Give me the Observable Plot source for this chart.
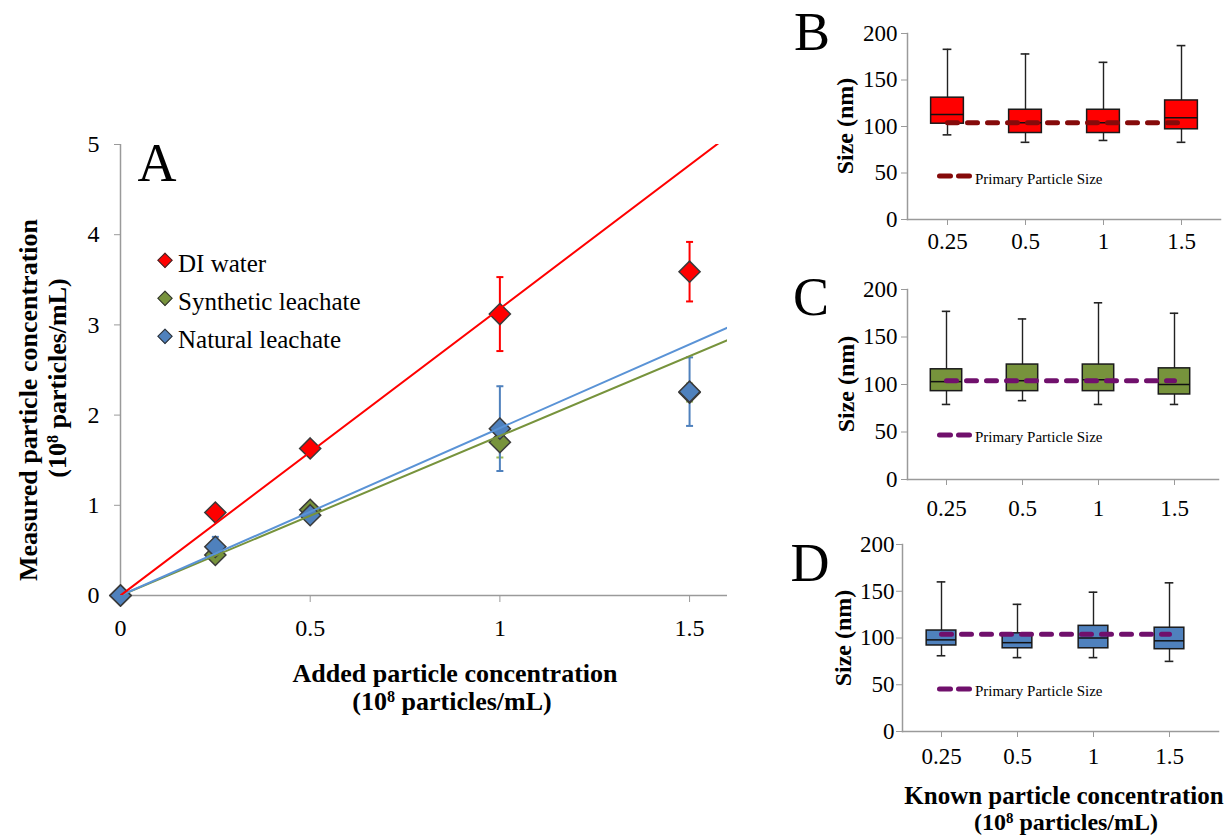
<!DOCTYPE html>
<html><head><meta charset="utf-8">
<script src="https://cdn.jsdelivr.net/npm/d3@7"></script>
<script src="https://cdn.jsdelivr.net/npm/@observablehq/plot@0.6"></script>
<style>
body{margin:0;background:#fff;}
#root{position:relative;width:1224px;height:836px;overflow:hidden;background:#fff;font-family:"Liberation Serif","Times New Roman",serif;color:#000;}
#root svg{position:absolute;overflow:visible;}
.t{position:absolute;white-space:nowrap;line-height:1;}
.t sup{font-size:0.62em;line-height:0;vertical-align:0;position:relative;top:-0.5em;}
.dia{position:absolute;width:10.5px;height:10.5px;box-sizing:border-box;border:1px solid #333;transform:translate(-50%,-50%) rotate(45deg);}
</style></head><body><div id="root"></div>
<script>
// ---------- Panel A data ----------
const addedConc = [0, 0.25, 0.5, 1, 1.5];
const diWater = [0, 0.92, 1.63, 3.12, 3.59];
const diWaterErr = [0, 0.03, 0.04, 0.41, 0.33];
const synthetic = [0, 0.45, 0.95, 1.70, 2.25];
const syntheticErr = [0, 0.03, 0.07, 0.17, 0.10];
const natural = [0, 0.54, 0.89, 1.85, 2.26];
const naturalErr = [0, 0.11, 0.05, 0.47, 0.38];
const trendX = [0, 1.6];
const trendDI = [0, 5.09];
const trendSynthetic = [0, 2.83];
const trendNatural = [0, 2.97];
const seriesNames = ["DI water", "Synthetic leachate", "Natural leachate"];

// ---------- Panels B-D data ----------
const knownConc = ["0.25", "0.5", "1", "1.5"];
const primarySize = 104;
const bMin = [91, 83, 85, 83], bQ1 = [103, 93, 93, 97], bMed = [113, 104, 104, 109.5], bQ3 = [131, 118, 118, 128], bMax = [183, 178, 169, 187];
const cMin = [79, 83, 79, 79], cQ1 = [93, 93, 93, 89.5], cMed = [103, 104, 105, 100], cQ3 = [116, 121, 121, 117], cMax = [177, 169, 186, 175];
const dMin = [81, 79, 79, 75], dQ1 = [92, 89, 89, 88], dMed = [98, 95, 100, 97], dQ3 = [108, 105, 113, 111], dMax = [160, 136, 149, 159];

const FONT = '"Liberation Serif","Times New Roman",serif';
const AXIS = "#9a9a9a";
const root = document.getElementById("root");

// ---------- Panel A ----------
const seriesA = [
  {name: seriesNames[0], v: diWater, e: diWaterErr, t: trendDI, fill: "#FF0000", err: "#FF0000", line: "#FF0000"},
  {name: seriesNames[1], v: synthetic, e: syntheticErr, t: trendSynthetic, fill: "#77933C", err: "#9BBB59", line: "#77933C"},
  {name: seriesNames[2], v: natural, e: naturalErr, t: trendNatural, fill: "#4F81BD", err: "#4F81BD", line: "#5A93D6"}
];
const rowsOf = s => addedConc.map((x, i) => ({x, y: s.v[i], lo: s.v[i] - s.e[i], hi: s.v[i] + s.e[i], e: s.e[i]}));
const trendOf = s => trendX.map((x, i) => ({x, y: s.t[i]}));
const capSymbol = {draw(ctx, size) { const w = Math.sqrt(size / Math.PI); ctx.moveTo(-w, 0); ctx.lineTo(w, 0); }};

const errMarks = seriesA.flatMap(s => {
  const r = rowsOf(s).filter(d => d.e > 0.06);
  return [
    Plot.ruleX(r, {x: "x", y1: "lo", y2: "hi", stroke: s.err, strokeWidth: 2}),
    Plot.dot(r, {x: "x", y: "lo", symbol: capSymbol, r: 3.5, fill: "none", stroke: s.err, strokeWidth: 2}),
    Plot.dot(r, {x: "x", y: "hi", symbol: capSymbol, r: 3.5, fill: "none", stroke: s.err, strokeWidth: 2})
  ];
});
const dotMarks = seriesA.map(s => Plot.dot(rowsOf(s), {x: "x", y: "y", symbol: "diamond2", r: 9.5, fill: s.fill, stroke: "#3a3a3a", strokeWidth: 1.5}));
const lineMarks = [seriesA[1], seriesA[2], seriesA[0]].map(s => Plot.line(trendOf(s), {x: "x", y: "y", stroke: s.line, strokeWidth: 2, clip: true}));

const plotA = Plot.plot({
  width: 745, height: 640,
  marginLeft: 120, marginRight: 18, marginTop: 144, marginBottom: 45,
  x: {domain: [0, 1.6]},
  y: {domain: [0, 5]},
  style: {fontFamily: FONT, fontSize: "24px", background: "transparent", color: "#000"},
  marks: [
    Plot.ruleY([0], {stroke: AXIS, strokeWidth: 1.5}),
    Plot.ruleX([0], {stroke: AXIS, strokeWidth: 1.5}),
    Plot.axisY({ticks: [0, 1, 2, 3, 4, 5], tickFormat: d => String(d), tickSize: 6, tickPadding: 15, stroke: AXIS, fill: "#000", fontSize: 24, label: null}),
    Plot.axisX({ticks: [0, 0.5, 1, 1.5], tickFormat: d => String(d), tickSize: 7, tickPadding: 16, stroke: AXIS, fill: "#000", fontSize: 24, label: null}),
    ...errMarks,
    ...dotMarks,
    ...lineMarks
  ]
});
plotA.style.left = "0px"; plotA.style.top = "0px";
root.appendChild(plotA);

// ---------- Box panels ----------
function boxPanel(o) {
  const rows = knownConc.map((c, i) => ({c, min: o.min[i], q1: o.q1[i], med: o.med[i], q3: o.q3[i], max: o.max[i]}));
  const frameW = o.width - o.ml - o.mr;
  const step = frameW / (4 + 2 * o.po);
  const boxInset = (step - o.boxW) / 2;
  const capInset = (step - 9) / 2;
  const p = Plot.plot({
    width: o.width, height: o.height,
    marginLeft: o.ml, marginRight: o.mr, marginTop: o.mt, marginBottom: o.mb,
    x: {type: "band", domain: knownConc, paddingInner: 0, paddingOuter: o.po, align: o.align},
    y: {domain: [0, 200]},
    style: {fontFamily: FONT, fontSize: "23px", background: "transparent", color: "#000"},
    marks: [
      Plot.frame({anchor: "left", stroke: AXIS, strokeWidth: 1.5}),
      Plot.frame({anchor: "bottom", stroke: AXIS, strokeWidth: 1.5}),
      Plot.axisY({ticks: [0, 50, 100, 150, 200], tickSize: 6, tickPadding: o.padY, stroke: AXIS, fill: "#000", fontSize: 23, label: null}),
      Plot.axisX({tickSize: 6, tickPadding: o.padX, stroke: AXIS, fill: "#000", fontSize: 23, label: null}),
      Plot.ruleX(rows, {x: "c", y1: "min", y2: "max", stroke: "#222", strokeWidth: 1.4}),
      Plot.tickY(rows, {x: "c", y: "min", insetLeft: capInset, insetRight: capInset, stroke: "#222", strokeWidth: 1.6}),
      Plot.tickY(rows, {x: "c", y: "max", insetLeft: capInset, insetRight: capInset, stroke: "#222", strokeWidth: 1.6}),
      Plot.barY(rows, {x: "c", y1: "q1", y2: "q3", fill: o.fill, stroke: "#1a1a1a", strokeWidth: 1.5, insetLeft: boxInset, insetRight: boxInset}),
      Plot.tickY(rows, {x: "c", y: "med", insetLeft: boxInset, insetRight: boxInset, stroke: "#111", strokeWidth: 1.5}),
      Plot.lineY(knownConc.map(c => ({c, v: primarySize})), {x: "c", y: "v", stroke: o.dash, strokeWidth: 5, strokeDasharray: "10,10", strokeLinecap: "round"})
    ]
  });
  p.style.left = o.left + "px"; p.style.top = o.top + "px";
  root.appendChild(p);
}

boxPanel({left: 800, top: 0, width: 424, height: 265, ml: 107, mr: 4, mt: 33, mb: 46, po: 0, align: 0.5, padX: 7, padY: 4, boxW: 33,
  fill: "#FF0000", dash: "#850a0a", min: bMin, q1: bQ1, med: bMed, q3: bQ3, max: bMax});
boxPanel({left: 800, top: 270, width: 424, height: 250, ml: 107, mr: 6, mt: 19, mb: 41, po: 0.03, align: 0.15, padX: 14, padY: 4, boxW: 32,
  fill: "#77933C", dash: "#70106c", min: cMin, q1: cQ1, med: cMed, q3: cQ3, max: cMax});
boxPanel({left: 800, top: 530, width: 424, height: 240, ml: 102, mr: 6, mt: 14, mb: 39, po: 0.07, align: 0.08, padX: 10, padY: 2, boxW: 30,
  fill: "#4F81BD", dash: "#70106c", min: dMin, q1: dQ1, med: dMed, q3: dQ3, max: dMax});

// ---------- Text & legends ----------
function text(html, x, y, size, o = {}) {
  const d = document.createElement("div");
  d.className = "t";
  d.innerHTML = html;
  d.style.left = x + "px"; d.style.top = y + "px";
  d.style.fontSize = size + "px";
  if (o.bold) d.style.fontWeight = "bold";
  const tx = o.anchor === "start" ? "0" : "-50%";
  d.style.transform = `translate(${tx},-50%)` + (o.rotate ? ` rotate(${o.rotate}deg)` : "");
  root.appendChild(d);
}
function diamond(x, y, color) {
  const d = document.createElement("div");
  d.className = "dia";
  d.style.left = x + "px"; d.style.top = y + "px"; d.style.background = color;
  root.appendChild(d);
}
function dashSample(x, y, color) {
  const ns = "http://www.w3.org/2000/svg";
  const s = document.createElementNS(ns, "svg");
  s.setAttribute("width", 40); s.setAttribute("height", 10);
  s.style.left = x + "px"; s.style.top = (y - 5) + "px";
  const l = document.createElementNS(ns, "line");
  l.setAttribute("x1", 2.5); l.setAttribute("x2", 33); l.setAttribute("y1", 5); l.setAttribute("y2", 5);
  l.setAttribute("stroke", color); l.setAttribute("stroke-width", 5);
  l.setAttribute("stroke-dasharray", "11,8"); l.setAttribute("stroke-linecap", "round");
  s.appendChild(l);
  root.appendChild(s);
}

text("A", 157, 163, 54);
text("B", 812, 32, 54);
text("C", 811, 297, 54);
text("D", 810, 563, 54);

// legend A
const legY = [260, 298, 336];
seriesA.forEach((s, i) => {
  diamond(165, legY[i], s.fill);
  text(s.name, 178, legY[i] + 3, 25, {anchor: "start"});
});

// axis titles A
text("Added particle concentration", 455, 674, 26, {bold: true});
text("(10<sup>8</sup> particles/mL)", 452, 702, 26, {bold: true});
text("Measured particle concentration", 29, 400, 26, {bold: true, rotate: -90});
text("(10<sup>8</sup> particles/mL)", 58, 378, 26, {bold: true, rotate: -90});

// box panel labels
text("Size (nm)", 845, 126, 24, {bold: true, rotate: -90});
text("Size (nm)", 846, 384, 24, {bold: true, rotate: -90});
text("Size (nm)", 843, 638, 24, {bold: true, rotate: -90});

dashSample(937, 176, "#850a0a");
text("Primary Particle Size", 975, 179, 15, {anchor: "start"});
dashSample(937, 435, "#70106c");
text("Primary Particle Size", 975, 437, 15, {anchor: "start"});
dashSample(937, 689, "#70106c");
text("Primary Particle Size", 975, 691, 15, {anchor: "start"});

text("Known particle concentration", 1064, 795, 25, {bold: true});
text("(10<sup>8</sup> particles/mL)", 1066, 822, 24, {bold: true});
</script>
</body></html>
